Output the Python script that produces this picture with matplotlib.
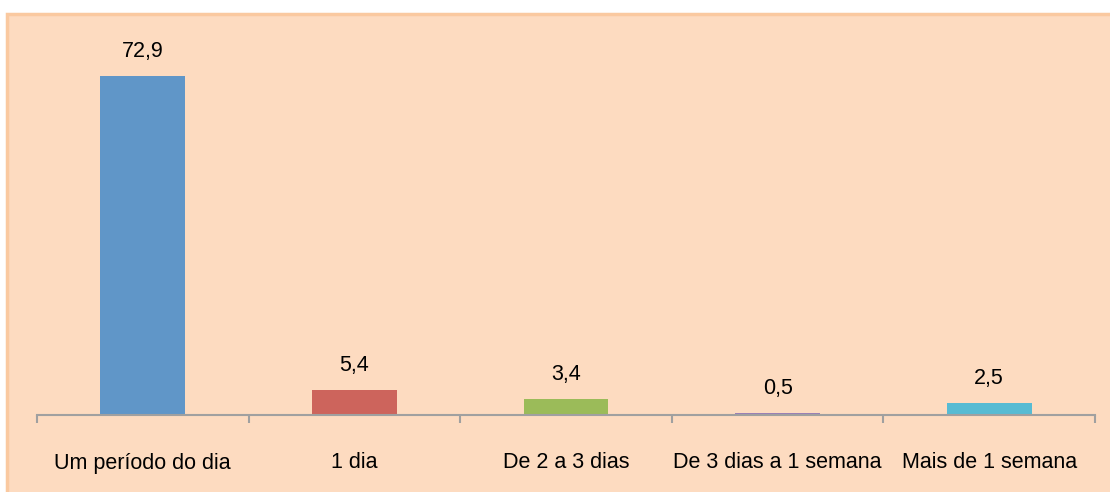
import matplotlib.pyplot as plt
from matplotlib.patches import Rectangle

plt.rcParams['font.family'] = ['Liberation Sans', 'DejaVu Sans']

categories = ["Um período do dia", "1 dia", "De 2 a 3 dias", "De 3 dias a 1 semana", "Mais de 1 semana"]
values = [72.9, 5.4, 3.4, 0.5, 2.5]
colors = ["#6096C8", "#CD645C", "#9BBB59", "#9A7FB5", "#57BBD3"]

W, H = 1110, 492
fig = plt.figure(figsize=(W / 100, H / 100), dpi=100)
fig.patch.set_facecolor("white")

# peach panel behind the chart
panel = Rectangle((7 / W, -0.01), 1.02 - 7 / W, 1.01 - 14 / H, transform=fig.transFigure,
                  facecolor="#FDDBC0", edgecolor="#FAC9A0", linewidth=2.5, zorder=-10)
fig.patches.append(panel)

ax = fig.add_axes([37 / W, 77 / H, (1095 - 37) / W, (415 - 43) / H])
ax.set_facecolor("none")

x = list(range(len(categories)))
ax.bar(x, values, width=0.40, color=colors, zorder=2)
for xi, v in zip(x, values):
    ax.annotate(f"{v:.1f}".replace(".", ","), (xi, v), xytext=(0, 10), textcoords="offset points",
                ha="center", va="bottom", fontsize=15.5)

ax.set_xlim(-0.5, len(categories) - 0.5)
ax.set_ylim(0, 80)
ax.set_yticks([])
for s in ["top", "right", "left"]:
    ax.spines[s].set_visible(False)
ax.spines["bottom"].set_color("#A0A0A0")
ax.spines["bottom"].set_linewidth(1.5)

ax.set_xticks(x)
ax.set_xticklabels(categories, fontsize=15.5)
ax.tick_params(axis="x", which="major", length=0, pad=27)
ax.set_xticks([i - 0.5 for i in range(len(categories) + 1)], minor=True)
ax.tick_params(axis="x", which="minor", length=6, width=1.5, color="#A0A0A0", direction="out")

fig.savefig("out.png", dpi=100, facecolor=fig.get_facecolor())
